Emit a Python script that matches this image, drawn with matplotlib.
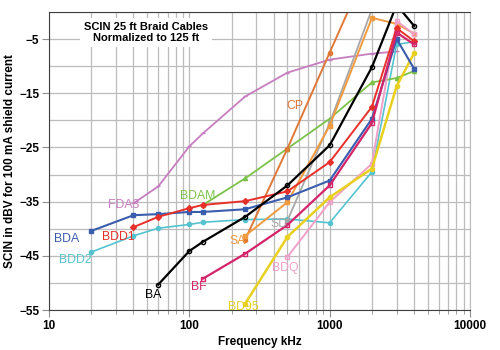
import matplotlib
matplotlib.use("Agg")
import matplotlib.pyplot as plt
from matplotlib.ticker import FixedLocator, NullFormatter, LogLocator

plt.rcParams['font.family'] = ['Liberation Sans', 'DejaVu Sans']

# data (kHz, dBV)
f_bda = [20, 40, 60, 100, 125, 250, 500, 1000, 2000, 3000, 4000]
bda = [-40.4, -37.5, -37.3, -36.9, -36.9, -36.4, -34.2, -31.1, -19.7, -5.0, -10.5]

f_bdd1 = [40, 60, 100, 125, 250, 500, 1000, 2000, 3000, 4000]
bdd1 = [-39.7, -37.8, -36.2, -35.6, -34.9, -33.1, -27.7, -17.5, -3.0, -5.4]

f_bdd2 = [20, 40, 60, 100, 125, 250, 500, 1000, 2000, 3000, 4000]
bdd2 = [-44.3, -41.3, -39.9, -39.2, -38.8, -38.3, -38.2, -38.9, -29.5, -6.0, -5.5]

f_fda3 = [40, 60, 100, 125, 250, 500, 1000, 2000, 3000]
fda3 = [-35.3, -32.2, -24.8, -22.4, -15.6, -11.2, -8.8, -7.7, -7.3]

f_bdam = [125, 250, 500, 1000, 2000, 3000, 4000]
bdam = [-35.6, -30.7, -25.2, -19.7, -13.0, -12.2, -10.9]

f_ba = [60, 100, 125, 250, 500, 1000, 2000, 3000, 4000]
ba = [-50.3, -44.1, -42.4, -37.8, -32.0, -24.6, -10.2, 1.3, -2.6]

f_bf = [125, 250, 500, 1000, 2000, 3000, 4000]
bf = [-49.2, -44.6, -39.3, -32.0, -20.5, -3.8, -6.0]

f_sa = [250, 500, 1000, 2000, 3000, 4000]
sa = [-41.3, -35.1, -21.0, -1.1, -2.2, -4.0]

f_cp = [250, 500, 1000, 2000]
cp = [-42.0, -25.2, -7.5, 10.0]

f_sd = [500, 1000, 2000]
sd = [-38.5, -20.5, 0.5]

f_bdq = [500, 1000, 2000, 3000, 4000]
bdq = [-45.2, -35.1, -28.0, -1.7, -4.1]

f_bd95 = [250, 500, 1000, 2000, 3000, 4000]
bd95 = [-53.8, -41.5, -34.2, -28.9, -13.7, -7.6]

fig = plt.figure(figsize=(5, 3.5), dpi=100)
ax = fig.add_axes([0.098, 0.114, 0.842, 0.852])

series = [
    # x, y, color, marker, mfc, lw, label, label pos
    (f_fda3, fda3, '#c77dbf', '_', '#c77dbf', 1.3, 'FDA3', (34, -35.6)),
    (f_bdd2, bdd2, '#55c3cf', 'o', '#55c3cf', 1.2, 'BDD2', (15.3, -45.7)),
    (f_bdam, bdam, '#7cc24a', '^', '#7cc24a', 1.3, 'BDAM', (114, -34.0)),
    (f_cp, cp, '#e07838', 'o', '#e07838', 1.4, 'CP', (562, -17.3)),
    (f_sd, sd, '#a8a8a8', 's', 'none', 1.3, 'SD', (432, -39.1)),
    (f_sa, sa, '#f29a3e', 's', '#f29a3e', 1.4, 'SA', (220, -42.2)),
    (f_bdq, bdq, '#f0a0c8', 's', 'none', 1.4, 'BDQ', (485, -47.2)),
    (f_bd95, bd95, '#e8d020', 'o', '#e8d020', 1.8, 'BD95', (243, -54.4)),
    (f_bda, bda, '#3a5dae', 's', '#3a5dae', 1.5, 'BDA', (13.4, -41.9)),
    (f_bdd1, bdd1, '#e8302a', 'D', '#e8302a', 1.4, 'BDD1', (31, -41.5)),
    (f_bf, bf, '#d4246a', 's', 'none', 1.6, 'BF', (116, -50.7)),
    (f_ba, ba, '#000000', 'o', 'none', 1.6, 'BA', (55, -52.2)),
]

for x, y, c, m, mfc, lw, name, pos in series:
    ax.plot(x, y, color=c, lw=lw, marker=m, ms=3, mfc=mfc, mec=c, mew=1)
    ax.text(pos[0], pos[1], name, color=c, fontsize=8.8, ha='center', va='center')

ax.set_xscale('log')
ax.set_xlim(10, 10000)
ax.set_ylim(-55, 0)

ax.xaxis.set_major_locator(FixedLocator([10, 100, 1000, 10000]))
ax.xaxis.set_minor_locator(LogLocator(base=10, subs=range(2, 10)))
ax.xaxis.set_minor_formatter(NullFormatter())
ax.set_xticklabels(['10', '100', '1000', '10000'])
ax.yaxis.set_major_locator(FixedLocator([-5, -15, -25, -35, -45, -55]))
ax.yaxis.set_minor_locator(FixedLocator([-50, -40, -30, -20, -10, 0]))

ax.grid(True, which='both', color='#bcbcbc', lw=0.9)
ax.set_axisbelow(True)
ax.tick_params(which='major', length=5, color='#909090', labelsize=8.5, pad=2)
ax.tick_params(which='minor', length=3, color='#909090')
ax.tick_params(axis='y', which='minor', length=0)
for lbl in ax.get_xticklabels() + ax.get_yticklabels():
    lbl.set_fontweight('bold')

for side in ['left', 'bottom', 'top']:
    ax.spines[side].set_color('#404040')
ax.spines['right'].set_color('#bcbcbc')

ax.set_xlabel('Frequency kHz', fontsize=8.5, fontweight='bold', labelpad=3)
ax.set_ylabel('SCIN in dBV for 100 mA shield current', fontsize=8.5, fontweight='bold', labelpad=2)

ax.text(0.23, 0.93, 'SCIN 25 ft Braid Cables\nNormalized to 125 ft', transform=ax.transAxes,
        ha='center', va='center', fontsize=8, fontweight='bold', linespacing=1.1,
        bbox=dict(facecolor='white', edgecolor='none', pad=3))

fig.savefig('out.png', dpi=100)
